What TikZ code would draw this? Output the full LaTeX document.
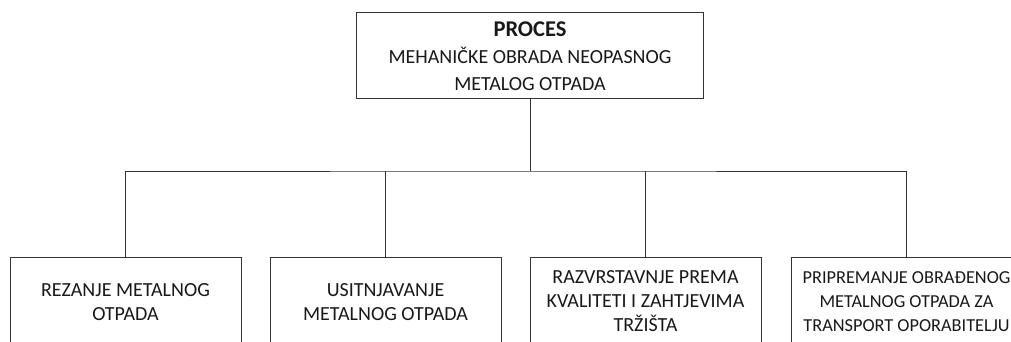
\documentclass[tikz,border=0pt]{standalone}
\usepackage{fontspec}
\setmainfont{Carlito}
\begin{document}
\begin{tikzpicture}[x=1pt,y=1pt,
  box/.style={draw=black!80, line width=0.9pt, fill=white, inner sep=0pt, anchor=north},
  wire/.style={draw=black!80, line width=0.9pt},
  lbl/.style={align=center, font=\fontsize{20}{24}\selectfont, text=black!90}]
\useasboundingbox (0,0) rectangle (1011,-341);
\begin{scope}
\clip (0,0) rectangle (1011,-341);
\node[box, minimum width=347, minimum height=86] (top) at (530,-12) {};
\node[lbl, font=\fontsize{20}{27}\selectfont] (toptxt) at (530,-56) {{\fontsize{22.5}{27}\selectfont\bfseries PROCES}\\MEHANIČKE OBRADA NEOPASNOG\\METALOG OTPADA};
\node[box, minimum width=231, minimum height=88] (b1) at (125.5,-257) {};
\node[box, minimum width=231, minimum height=88] (b2) at (385.5,-257) {};
\node[box, minimum width=231, minimum height=88] (b3) at (645.5,-257) {};
\node[box, minimum width=231, minimum height=88] (b4) at (906.5,-257) {};
\node[lbl] (t1) at ([yshift=-1]b1.center) {REZANJE METALNOG\\OTPADA};
\node[lbl] (t2) at ([yshift=-1]b2.center) {USITNJAVANJE\\METALNOG OTPADA};
\node[lbl] (t3) at (b3.center) {RAZVRSTAVNJE PREMA\\KVALITETI I ZAHTJEVIMA\\TRŽIŠTA};
\node[lbl, font=\fontsize{18.3}{24}\selectfont] (t4) at (b4.center) {PRIPREMANJE OBRAĐENOG\\METALNOG OTPADA ZA\\TRANSPORT OPORABITELJU};
\coordinate (bus) at (530,-171);
\draw[wire] (top.south) -- (bus);
\draw[wire] (b1.north) |- (bus) -| (b4.north);
\draw[wire] (b2.north) -- (b2.north |- bus);
\draw[wire] (b3.north) -- (b3.north |- bus);
\end{scope}
\end{tikzpicture}
\end{document}
